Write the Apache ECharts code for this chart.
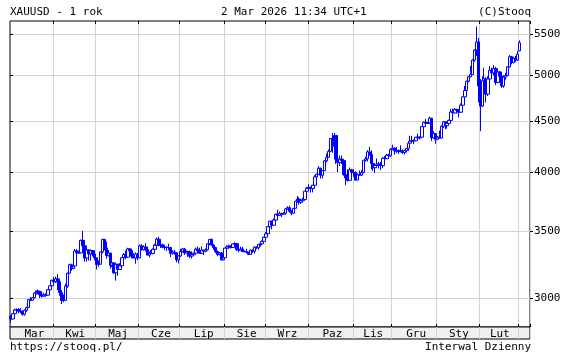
<!DOCTYPE html>
<html>
<head>
<meta charset="utf-8">
<script src="https://cdn.jsdelivr.net/npm/echarts@6/dist/echarts.min.js"></script>
<style>
  html, body { margin: 0; padding: 0; background: #fff; }
  #chart { width: 570px; height: 355px; }
</style>
</head>
<body>
<div id="chart"></div>
<script>
const FONT = '"DejaVu Sans Mono", monospace'

const monthNames = ['Sty', 'Lut', 'Mar', 'Kwi', 'Maj', 'Cze', 'Lip', 'Sie', 'Wrz', 'Paz', 'Lis', 'Gru']
const yTicks = [3000, 3500, 4000, 4500, 5000, 5500]
const firstDay = '2025-02-28'
const lastDay = '2026-03-02'
const padDays = 5

// daily candles, [open, close, low, high]
const prices = [
  [2876, 2858, 2833, 2882],
  // Mar
  [2858, 2893, 2855, 2896], [2893, 2918, 2880, 2927], [2918, 2920, 2903, 2928], [2920, 2910, 2895, 2930],
  [2910, 2910, 2896, 2930], [2910, 2889, 2880, 2913], [2889, 2916, 2880, 2922], [2916, 2934, 2905, 2940],
  [2934, 2988, 2932, 2990], [2988, 2984, 2978, 3005], [2984, 3001, 2982, 3003], [3001, 3035, 2998, 3038],
  [3035, 3048, 3024, 3050], [3048, 3044, 3025, 3057], [3044, 3022, 3000, 3048], [3022, 3012, 3002, 3036],
  [3012, 3020, 3010, 3036], [3020, 3019, 3010, 3032], [3019, 3057, 3016, 3060], [3057, 3085, 3055, 3087],
  [3085, 3124, 3076, 3128],
  // Kwi
  [3124, 3113, 3100, 3149], [3113, 3134, 3105, 3149], [3134, 3114, 3054, 3168], [3114, 3037, 3015, 3136],
  [3037, 2982, 2957, 3055], [2982, 2983, 2970, 3023], [2983, 3083, 2980, 3100], [3083, 3175, 3070, 3180],
  [3175, 3237, 3170, 3245], [3237, 3210, 3193, 3245], [3210, 3228, 3203, 3230], [3228, 3342, 3223, 3357],
  [3342, 3326, 3283, 3357], [3326, 3327, 3320, 3333], [3327, 3424, 3325, 3430], [3424, 3381, 3367, 3500],
  [3381, 3288, 3261, 3386], [3288, 3349, 3260, 3368], [3349, 3319, 3268, 3352], [3319, 3344, 3268, 3352],
  [3344, 3317, 3300, 3329], [3317, 3289, 3269, 3328],
  // Maj
  [3289, 3239, 3202, 3269], [3239, 3241, 3222, 3269], [3241, 3334, 3240, 3337], [3334, 3431, 3323, 3437],
  [3431, 3365, 3346, 3435], [3365, 3306, 3282, 3415], [3306, 3325, 3299, 3348], [3325, 3234, 3208, 3283],
  [3234, 3251, 3220, 3265], [3251, 3178, 3170, 3256], [3178, 3241, 3121, 3251], [3241, 3202, 3155, 3243],
  [3202, 3229, 3200, 3250], [3229, 3290, 3205, 3296], [3290, 3314, 3280, 3325], [3314, 3294, 3277, 3345],
  [3294, 3357, 3287, 3366], [3357, 3343, 3324, 3365], [3343, 3301, 3285, 3350], [3301, 3288, 3286, 3325],
  [3288, 3318, 3245, 3330], [3318, 3289, 3271, 3325],
  // Cze
  [3289, 3381, 3287, 3392], [3381, 3352, 3343, 3393], [3352, 3373, 3345, 3385], [3373, 3352, 3338, 3403],
  [3352, 3310, 3307, 3375], [3310, 3325, 3293, 3338], [3325, 3322, 3310, 3348], [3322, 3354, 3316, 3360],
  [3354, 3386, 3340, 3397], [3386, 3433, 3384, 3446], [3433, 3385, 3378, 3452], [3385, 3388, 3365, 3397],
  [3388, 3370, 3362, 3398], [3370, 3369, 3347, 3377], [3369, 3368, 3340, 3375], [3368, 3368, 3347, 3398],
  [3368, 3323, 3295, 3369], [3323, 3333, 3312, 3347], [3333, 3328, 3313, 3350], [3328, 3274, 3255, 3328],
  [3274, 3303, 3247, 3308],
  // Lip
  [3303, 3338, 3297, 3358], [3338, 3357, 3330, 3365], [3357, 3326, 3311, 3365], [3326, 3337, 3322, 3345],
  [3337, 3335, 3296, 3342], [3335, 3302, 3287, 3345], [3302, 3313, 3283, 3317], [3313, 3324, 3310, 3330],
  [3324, 3355, 3321, 3368], [3355, 3343, 3340, 3375], [3343, 3324, 3320, 3366], [3324, 3347, 3320, 3377],
  [3347, 3339, 3310, 3349], [3339, 3350, 3332, 3361], [3350, 3397, 3344, 3402], [3397, 3431, 3385, 3433],
  [3431, 3387, 3381, 3439], [3387, 3368, 3351, 3396], [3368, 3337, 3325, 3373], [3337, 3314, 3301, 3345],
  [3314, 3326, 3308, 3334], [3326, 3274, 3268, 3334], [3274, 3290, 3270, 3315],
  // Sie
  [3290, 3363, 3281, 3364], [3363, 3373, 3347, 3385], [3373, 3380, 3357, 3390], [3380, 3368, 3360, 3385],
  [3368, 3396, 3365, 3398], [3396, 3398, 3378, 3409], [3398, 3352, 3342, 3404], [3352, 3348, 3331, 3358],
  [3348, 3356, 3347, 3375], [3356, 3336, 3334, 3373], [3336, 3336, 3332, 3346], [3336, 3332, 3323, 3358],
  [3332, 3315, 3313, 3334], [3315, 3348, 3311, 3350], [3348, 3339, 3326, 3352], [3339, 3371, 3321, 3378],
  [3371, 3365, 3357, 3376], [3365, 3393, 3351, 3394], [3393, 3397, 3376, 3398], [3397, 3416, 3386, 3423],
  [3416, 3448, 3406, 3453],
  // Wrz
  [3448, 3476, 3436, 3490], [3476, 3533, 3470, 3540], [3533, 3578, 3528, 3579], [3578, 3545, 3511, 3580],
  [3545, 3587, 3538, 3600], [3587, 3636, 3579, 3640], [3636, 3625, 3620, 3674], [3625, 3641, 3620, 3658],
  [3641, 3634, 3612, 3647], [3634, 3643, 3630, 3655], [3643, 3680, 3632, 3685], [3680, 3690, 3675, 3703],
  [3690, 3660, 3650, 3707], [3660, 3644, 3627, 3672], [3644, 3685, 3640, 3687], [3685, 3746, 3682, 3749],
  [3746, 3764, 3737, 3791], [3764, 3736, 3717, 3780], [3736, 3750, 3723, 3760], [3750, 3760, 3739, 3776],
  [3760, 3833, 3757, 3835], [3833, 3858, 3793, 3872],
  // Paz
  [3858, 3866, 3845, 3895], [3866, 3857, 3820, 3875], [3857, 3886, 3822, 3889], [3886, 3961, 3885, 3977],
  [3961, 3985, 3931, 3991], [3985, 4041, 3980, 4059], [4041, 3976, 3945, 4045], [3976, 4018, 3947, 4022],
  [4018, 4110, 4017, 4116], [4110, 4143, 4097, 4179], [4143, 4200, 4140, 4218], [4200, 4326, 4192, 4330],
  [4326, 4251, 4186, 4380], [4251, 4356, 4240, 4381], [4356, 4125, 4082, 4360], [4125, 4095, 4004, 4162],
  [4095, 4126, 4060, 4160], [4126, 4112, 4080, 4160], [4112, 3981, 3972, 4114], [3981, 3952, 3886, 3992],
  [3952, 3930, 3917, 4031], [3930, 4025, 3929, 4047], [4025, 4002, 3970, 4034],
  // Lis
  [4002, 4000, 3962, 4031], [4000, 3932, 3928, 4012], [3932, 3980, 3930, 3993], [3980, 3977, 3970, 4020],
  [3977, 4001, 3968, 4023], [4001, 4115, 3994, 4118], [4115, 4128, 4102, 4149], [4128, 4195, 4103, 4212],
  [4195, 4172, 4158, 4245], [4172, 4084, 4032, 4211], [4084, 4045, 4016, 4105], [4045, 4066, 3997, 4083],
  [4066, 4078, 4055, 4132], [4078, 4078, 4039, 4099], [4078, 4065, 4022, 4098], [4065, 4135, 4040, 4143],
  [4135, 4130, 4100, 4156], [4130, 4164, 4127, 4175], [4164, 4157, 4140, 4175], [4157, 4218, 4152, 4230],
  // Gru
  [4218, 4231, 4212, 4264], [4231, 4206, 4168, 4239], [4206, 4200, 4183, 4242], [4200, 4208, 4175, 4219],
  [4208, 4198, 4190, 4259], [4198, 4189, 4174, 4216], [4189, 4208, 4170, 4218], [4208, 4229, 4189, 4232],
  [4229, 4280, 4203, 4285], [4280, 4299, 4265, 4353], [4299, 4305, 4282, 4352], [4305, 4303, 4271, 4317],
  [4303, 4339, 4300, 4342], [4339, 4331, 4309, 4375], [4331, 4339, 4317, 4349], [4339, 4445, 4338, 4448],
  [4445, 4490, 4442, 4497], [4490, 4480, 4467, 4525], [4480, 4482, 4475, 4490], [4482, 4533, 4478, 4550],
  [4533, 4332, 4302, 4535], [4332, 4375, 4326, 4400], [4375, 4318, 4274, 4380],
  // Sty
  [4318, 4340, 4310, 4350], [4340, 4330, 4325, 4405], [4330, 4450, 4325, 4460], [4450, 4495, 4430, 4500],
  [4495, 4455, 4420, 4500], [4455, 4478, 4425, 4480], [4478, 4510, 4465, 4517], [4510, 4598, 4505, 4630],
  [4598, 4588, 4570, 4634], [4588, 4625, 4585, 4640], [4625, 4615, 4580, 4630], [4615, 4595, 4540, 4625],
  [4595, 4670, 4590, 4690], [4670, 4760, 4665, 4765], [4760, 4830, 4750, 4880], [4830, 4935, 4790, 4940],
  [4935, 4985, 4920, 4990], [4985, 5010, 4980, 5110], [5010, 5180, 5005, 5190], [5180, 5300, 5160, 5310],
  [5300, 5400, 5230, 5595], [5400, 4880, 4700, 5450],
  // Lut
  [4880, 4660, 4400, 4960], [4660, 4940, 4650, 4990], [4940, 4960, 4860, 5090], [4960, 4790, 4700, 4980],
  [4790, 4960, 4770, 4990], [4960, 5060, 4950, 5110], [5060, 5030, 4990, 5090], [5030, 5080, 5000, 5120],
  [5080, 4920, 4890, 5100], [4920, 5040, 4910, 5060], [5040, 4990, 4960, 5050], [4990, 4880, 4860, 5000],
  [4880, 4980, 4860, 5000], [4980, 5000, 4950, 5030], [5000, 5100, 4990, 5110], [5100, 5220, 5090, 5240],
  [5220, 5150, 5130, 5230], [5150, 5200, 5140, 5220], [5200, 5180, 5160, 5230], [5180, 5250, 5170, 5290],
  // Mar 2026
  [5290, 5390, 5285, 5420]
]

// weekdays between two dates
function tradingDays(from, to) {
  const out = []
  const d = new Date(from + 'T00:00:00Z')
  const end = new Date(to + 'T00:00:00Z')
  while (d <= end) {
    const wd = d.getUTCDay()
    if (wd !== 0 && wd !== 6) out.push(d.toISOString().slice(0, 10))
    d.setUTCDate(d.getUTCDate() + 1)
  }
  return out
}

const dates = tradingDays(firstDay, lastDay)
const categories = dates.concat(Array.from({ length: padDays }, (_, i) => '+' + (i + 1)))

// first trading day of each month
const monthStart = []
dates.forEach((d, i) => {
  if (i > 0 && d.slice(5, 7) !== dates[i - 1].slice(5, 7)) monthStart.push(i)
})
const gridIdx = new Set(monthStart.slice(1))
const labelText = {}
for (let k = 0; k < monthStart.length - 1; k++) {
  const mid = Math.ceil((monthStart[k] + monthStart[k + 1]) / 2)
  labelText[mid] = monthNames[Number(dates[monthStart[k]].slice(5, 7)) - 1]
}

const yMin = 2806
const yMax = 5666

const chart = echarts.init(document.getElementById('chart'), null, { renderer: 'canvas' })
chart.setOption({
  animation: false,
  backgroundColor: '#fff',
  grid: [
    { left: 10, top: 21, width: 520, height: 306, show: true, borderColor: '#000', borderWidth: 1, backgroundColor: '#fff' },
    { left: 10, top: 327, width: 520, height: 12, show: true, borderColor: '#000', borderWidth: 1, backgroundColor: '#f0f0f0' },
  ],
  xAxis: [
    {
      type: 'category', gridIndex: 0, data: categories, position: 'bottom',
      axisLine: { show: false },
      axisTick: { show: true, inside: true, length: 3, interval: (i) => gridIdx.has(i), lineStyle: { color: '#000' } },
      axisLabel: {
        interval: (i) => labelText[i] !== undefined,
        formatter: (v, i) => labelText[i] || '',
        margin: 2, color: '#000', fontFamily: FONT, fontSize: 11,
      },
      splitLine: { show: true, interval: (i) => gridIdx.has(i), lineStyle: { color: '#d4d4d4', width: 1 } },
    },
    {
      type: 'category', gridIndex: 0, data: categories, position: 'top',
      axisLine: { show: false },
      axisTick: { show: true, inside: true, length: 3, interval: (i) => gridIdx.has(i), lineStyle: { color: '#000' } },
      axisLabel: { show: false },
      splitLine: { show: false },
    },
    {
      type: 'category', gridIndex: 1, data: categories,
      axisLine: { show: false },
      axisTick: { show: false },
      axisLabel: { show: false },
      splitLine: { show: true, interval: (i) => gridIdx.has(i), lineStyle: { color: '#d4d4d4', width: 1 } },
    },
  ],
  yAxis: [
    {
      type: 'log', gridIndex: 0, position: 'right', min: yMin, max: yMax,
      axisLine: { show: false },
      axisTick: { show: true, inside: false, length: 3, customValues: yTicks, lineStyle: { color: '#000' } },
      axisLabel: {
        customValues: yTicks, margin: 4, color: '#000', fontFamily: FONT, fontSize: 11,
        formatter: (v) => String(Math.round(v)),
      },
      splitLine: { show: true, lineStyle: { color: '#d4d4d4', width: 1 } },
    },
    {
      type: 'log', gridIndex: 0, position: 'left', min: yMin, max: yMax,
      axisLine: { show: false },
      axisTick: { show: true, inside: true, length: 3, customValues: yTicks, lineStyle: { color: '#000' } },
      axisLabel: { show: false },
      splitLine: { show: false },
    },
    { type: 'value', gridIndex: 1, show: false },
  ],
  series: [{
    type: 'candlestick',
    xAxisIndex: 0,
    yAxisIndex: 0,
    data: prices,
    barWidth: 3,
    itemStyle: {
      color: '#ffffff',
      color0: '#0000ff',
      borderColor: '#0000ff',
      borderColor0: '#0000ff',
      borderWidth: 1,
    },
  }],
  graphic: [
    { type: 'text', x: 10, y: 12.5, style: { text: 'XAUUSD - 1 rok', fontFamily: FONT, fontSize: 11, fill: '#000', align: 'left', verticalAlign: 'middle' } },
    { type: 'text', x: 221, y: 12.5, style: { text: '2 Mar 2026 11:34 UTC+1', fontFamily: FONT, fontSize: 11, fill: '#000', align: 'left', verticalAlign: 'middle' } },
    { type: 'text', x: 531, y: 12.5, style: { text: '(C)Stooq', fontFamily: FONT, fontSize: 11, fill: '#000', align: 'right', verticalAlign: 'middle' } },
    { type: 'text', x: 10, y: 347, style: { text: 'https://stooq.pl/', fontFamily: FONT, fontSize: 11, fill: '#000', align: 'left', verticalAlign: 'middle' } },
    { type: 'text', x: 531, y: 347, style: { text: 'Interwal Dzienny', fontFamily: FONT, fontSize: 11, fill: '#000', align: 'right', verticalAlign: 'middle' } },
  ],
})
</script>
</body>
</html>
